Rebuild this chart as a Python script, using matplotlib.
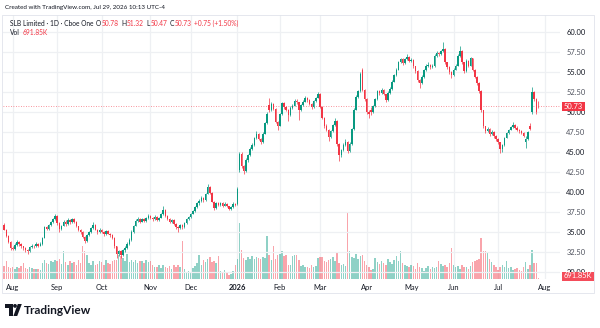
import numpy as np
import pandas as pd
import matplotlib
matplotlib.use("Agg")
import matplotlib.pyplot as plt
from matplotlib.patches import Rectangle, Polygon, Circle

# SLB daily candles, Jul 28 2025 .. Jul 29 2026
opens = [35.9, 35.3, 34.5, 33.7, 33.0, 32.9, 33.4, 33.8, 33.5, 33.2,
         33.0, 32.7, 32.6, 33.1, 33.3, 33.2, 33.5, 33.3, 33.5, 34.3,
         35.6, 35.4, 35.9, 36.2, 36.6, 37.0, 36.1, 35.4, 35.8, 36.3,
         36.0, 36.5, 36.2, 36.6, 36.3, 35.7, 35.2, 35.0, 34.4, 33.9,
         34.6, 35.0, 35.5, 35.9, 35.3, 35.0, 35.3, 35.0, 34.7, 35.1,
         34.8, 34.6, 34.3, 33.2, 32.2, 32.6, 32.1, 32.7, 33.0, 33.5,
         34.0, 35.0, 35.8, 36.4, 36.6, 36.3, 36.6, 36.4, 36.7, 37.0,
         36.8, 36.6, 36.9, 36.5, 36.8, 37.2, 37.8, 37.0, 36.6, 36.2,
         36.5, 36.0, 35.6, 35.5, 35.9, 35.6, 36.1, 36.6, 36.9, 37.3,
         37.6, 38.1, 38.6, 38.9, 39.3, 39.0, 39.8, 40.6, 39.9, 38.8,
         38.0, 38.6, 38.4, 38.6, 38.3, 38.5, 38.2, 37.9, 38.1, 38.5,
         38.5, 42.8, 44.8, 43.2, 42.6, 44.0, 44.6, 45.4, 45.9, 46.7,
         47.3, 46.6, 46.2, 47.3, 48.6, 50.9, 50.2, 51.0, 50.4, 48.8,
         48.3, 49.7, 51.1, 50.6, 50.3, 49.6, 50.5, 50.8, 51.4, 51.2,
         50.2, 50.9, 51.3, 51.8, 51.5, 51.0, 50.6, 51.4, 51.8, 52.3,
         50.6, 49.3, 48.2, 47.8, 46.9, 47.6, 48.4, 48.9, 46.0, 44.6,
         45.2, 45.9, 46.3, 45.1, 46.0, 47.9, 50.3, 51.9, 52.6, 55.2,
         52.8, 51.6, 50.0, 50.3, 50.0, 50.7, 51.6, 52.6, 52.4, 52.8,
         52.2, 51.5, 52.4, 52.9, 53.8, 54.6, 55.3, 56.2, 56.6, 56.1,
         56.6, 56.9, 56.4, 56.5, 55.7, 55.1, 54.0, 53.6, 54.4, 55.2,
         55.8, 55.9, 55.6, 55.7, 57.0, 57.4, 57.2, 57.6, 57.9, 56.2,
         55.6, 55.0, 54.6, 55.3, 55.8, 57.0, 57.6, 56.2, 55.1, 56.4,
         55.8, 56.7, 55.3, 54.4, 53.6, 52.6, 50.2, 48.2, 47.6, 47.9,
         47.2, 47.5, 47.0, 46.6, 46.2, 45.4, 45.9, 46.8, 47.4, 47.8,
         48.1, 48.4, 48.0, 47.8, 47.6, 47.4, 46.3, 46.6, 48.3, 50.0,
         52.5, 51.6, 50.78]
highs = [36.1, 35.4, 34.6, 33.9, 33.3, 33.6, 34.0, 33.9, 33.6, 33.3,
         33.1, 32.9, 33.2, 33.5, 33.4, 33.7, 33.6, 33.7, 34.4, 35.8,
         35.8, 36.0, 36.4, 36.8, 37.3, 37.1, 36.2, 35.9, 36.5, 36.5,
         36.7, 36.6, 36.8, 36.7, 36.4, 35.8, 35.4, 35.1, 34.5, 34.7,
         35.1, 35.6, 36.2, 36.0, 35.4, 35.5, 35.4, 35.1, 35.3, 35.2,
         34.9, 34.7, 34.4, 33.3, 32.8, 32.7, 32.9, 33.2, 33.7, 34.2,
         35.2, 35.9, 36.6, 36.9, 36.7, 36.8, 36.7, 36.9, 37.2, 37.1,
         36.9, 37.1, 37.0, 36.9, 37.4, 38.2, 37.9, 37.1, 36.7, 36.6,
         36.6, 36.1, 35.8, 36.0, 36.0, 36.2, 36.7, 37.0, 37.4, 37.8,
         38.3, 38.7, 39.1, 39.5, 39.4, 39.9, 41.0, 40.7, 40.0, 38.9,
         38.8, 38.7, 38.8, 38.7, 38.7, 38.6, 38.3, 38.3, 38.7, 38.6,
         40.6, 45.0, 45.0, 43.4, 44.2, 44.8, 45.6, 46.1, 46.9, 47.6,
         47.4, 46.8, 47.5, 48.8, 50.0, 51.8, 51.2, 51.1, 50.5, 48.9,
         49.9, 51.3, 51.2, 50.8, 50.4, 50.7, 51.0, 51.6, 51.6, 51.3,
         51.0, 51.5, 52.0, 51.9, 51.6, 51.1, 51.5, 51.9, 52.5, 52.4,
         50.7, 49.4, 48.5, 47.9, 47.8, 48.5, 49.3, 49.0, 46.1, 45.4,
         46.1, 46.6, 46.4, 46.2, 48.0, 50.5, 52.1, 52.8, 55.0, 55.5,
         52.9, 51.7, 50.3, 50.6, 50.9, 51.8, 52.8, 52.7, 53.0, 52.9,
         52.3, 52.6, 53.1, 54.0, 54.8, 55.5, 56.4, 56.8, 56.7, 56.8,
         57.2, 57.0, 56.7, 56.6, 55.8, 55.2, 54.1, 54.6, 55.4, 56.0,
         56.2, 56.0, 56.0, 57.2, 57.6, 57.5, 57.8, 58.8, 58.0, 56.3,
         55.7, 55.1, 55.5, 56.0, 57.2, 58.2, 57.7, 56.3, 56.6, 56.5,
         56.9, 56.8, 55.4, 54.5, 53.7, 52.7, 50.3, 48.3, 48.1, 48.0,
         47.7, 47.6, 47.1, 46.7, 46.3, 46.0, 46.9, 47.5, 47.9, 48.3,
         48.8, 48.5, 48.2, 47.9, 47.7, 47.5, 47.0, 47.6, 48.6, 53.1,
         52.6, 51.8, 51.32]
lows = [35.2, 34.4, 33.6, 32.8, 32.7, 32.8, 33.3, 33.3, 33.0, 32.8,
        32.5, 32.3, 32.5, 33.0, 33.0, 33.1, 33.1, 33.2, 33.4, 34.2,
        35.2, 35.3, 35.8, 36.1, 36.5, 35.9, 35.0, 35.2, 35.7, 35.8,
        35.9, 36.0, 36.1, 36.1, 35.6, 35.1, 34.8, 34.3, 33.6, 33.8,
        34.5, 34.9, 35.4, 35.2, 34.8, 34.9, 34.9, 34.5, 34.6, 34.7,
        34.4, 34.1, 33.0, 31.8, 32.0, 31.7, 32.0, 32.5, 32.9, 33.4,
        33.9, 34.9, 35.7, 36.3, 36.1, 36.2, 36.2, 36.3, 36.6, 36.6,
        36.4, 36.5, 36.4, 36.4, 36.7, 37.1, 36.9, 36.5, 36.1, 36.1,
        35.9, 35.4, 35.0, 35.4, 35.4, 35.5, 36.0, 36.5, 36.8, 37.2,
        37.5, 38.0, 38.4, 38.8, 38.8, 38.9, 39.7, 39.8, 38.7, 37.8,
        37.9, 38.2, 38.3, 38.1, 38.2, 38.1, 37.7, 37.8, 38.0, 38.2,
        38.4, 42.5, 43.0, 42.3, 42.5, 43.8, 44.5, 45.3, 45.8, 46.6,
        46.5, 46.0, 46.1, 47.2, 48.5, 50.0, 50.1, 50.2, 48.6, 47.8,
        48.2, 49.6, 50.4, 50.1, 48.9, 49.5, 50.4, 50.7, 51.0, 49.0,
        50.1, 50.8, 51.2, 51.3, 50.9, 50.4, 50.5, 51.3, 51.7, 50.5,
        49.1, 48.0, 47.6, 46.4, 46.8, 47.5, 48.3, 45.8, 43.9, 44.4,
        45.1, 45.8, 44.9, 45.0, 45.9, 47.8, 50.2, 51.8, 52.5, 52.6,
        51.4, 49.8, 49.3, 49.6, 49.9, 50.6, 51.5, 52.1, 52.3, 52.1,
        51.2, 51.4, 52.3, 52.8, 53.7, 54.5, 55.2, 56.1, 55.9, 56.0,
        56.5, 56.2, 56.3, 55.5, 54.9, 53.8, 53.0, 53.5, 54.3, 55.1,
        55.6, 55.4, 55.5, 55.6, 56.9, 57.0, 57.1, 57.5, 56.0, 55.4,
        54.8, 54.3, 54.5, 55.2, 55.7, 56.9, 56.0, 54.9, 55.0, 55.6,
        55.7, 55.1, 54.2, 53.4, 52.4, 50.0, 48.0, 47.4, 47.5, 47.0,
        47.1, 46.8, 46.4, 46.0, 44.9, 45.0, 45.8, 46.7, 47.3, 47.7,
        48.0, 47.9, 47.6, 47.4, 47.2, 46.9, 45.5, 46.5, 47.7, 49.8,
        51.4, 49.8, 50.47]
closes = [35.3, 34.5, 33.7, 33.0, 32.9, 33.4, 33.8, 33.5, 33.2, 33.0,
          32.7, 32.6, 33.1, 33.3, 33.2, 33.5, 33.3, 33.5, 34.3, 35.6,
          35.4, 35.9, 36.2, 36.6, 37.0, 36.1, 35.4, 35.8, 36.3, 36.0,
          36.5, 36.2, 36.6, 36.3, 35.7, 35.2, 35.0, 34.4, 33.9, 34.6,
          35.0, 35.5, 35.9, 35.3, 35.0, 35.3, 35.0, 34.7, 35.1, 34.8,
          34.6, 34.3, 33.2, 32.2, 32.6, 32.1, 32.7, 33.0, 33.5, 34.0,
          35.0, 35.8, 36.4, 36.6, 36.3, 36.6, 36.4, 36.7, 37.0, 36.8,
          36.6, 36.9, 36.5, 36.8, 37.2, 37.8, 37.0, 36.6, 36.2, 36.5,
          36.0, 35.6, 35.5, 35.9, 35.6, 36.1, 36.6, 36.9, 37.3, 37.6,
          38.1, 38.6, 38.9, 39.3, 39.0, 39.8, 40.6, 39.9, 38.8, 38.0,
          38.6, 38.4, 38.6, 38.3, 38.5, 38.2, 37.9, 38.1, 38.5, 38.4,
          40.4, 44.8, 43.2, 42.6, 44.0, 44.6, 45.4, 45.9, 46.7, 47.3,
          46.6, 46.2, 47.3, 48.6, 49.8, 50.2, 51.0, 50.4, 48.8, 48.3,
          49.7, 51.1, 50.6, 50.3, 49.6, 50.5, 50.8, 51.4, 51.2, 50.2,
          50.9, 51.3, 51.8, 51.5, 51.0, 50.6, 51.4, 51.8, 52.2, 50.6,
          49.3, 48.2, 47.8, 46.9, 47.6, 48.4, 48.9, 46.0, 44.6, 45.2,
          45.9, 46.3, 45.1, 46.0, 47.9, 50.3, 51.9, 52.6, 54.7, 52.8,
          51.6, 50.0, 49.8, 50.0, 50.7, 51.6, 52.6, 52.4, 52.8, 52.2,
          51.5, 52.4, 52.9, 53.8, 54.6, 55.3, 56.2, 56.6, 56.1, 56.6,
          56.9, 56.4, 56.5, 55.7, 55.1, 54.0, 53.6, 54.4, 55.2, 55.8,
          55.9, 55.6, 55.7, 57.0, 57.4, 57.2, 57.6, 57.9, 56.2, 55.6,
          55.0, 54.6, 55.3, 55.8, 57.0, 57.6, 56.2, 55.1, 56.4, 55.8,
          56.7, 55.3, 54.4, 53.6, 52.6, 50.2, 48.2, 47.6, 47.9, 47.2,
          47.5, 47.0, 46.6, 46.2, 45.4, 45.9, 46.8, 47.4, 47.8, 48.1,
          48.4, 48.0, 47.8, 47.6, 47.4, 47.0, 46.6, 47.5, 47.9, 52.5,
          51.6, 49.98, 50.73]
# volume in millions of shares
volumes = [6.5, 8.8, 6.0, 5.5, 6.2, 5.0, 5.8, 5.3, 6.5, 7.8,
           5.6, 5.2, 6.0, 5.4, 5.0, 4.8, 5.2, 4.6, 8.0, 9.5,
           8.2, 7.6, 9.0, 8.5, 9.6, 8.9, 10.2, 7.4, 13.8, 8.6,
           7.2, 9.0, 7.8, 8.4, 6.9, 9.5, 8.0, 16.3, 13.8, 12.0,
           8.0, 7.2, 9.0, 6.8, 7.5, 9.2, 8.5, 7.0, 9.6, 8.2,
           7.4, 8.8, 9.5, 9.7, 12.0, 11.5, 10.5, 9.0, 12.5, 8.6,
           9.5, 8.4, 9.6, 8.0, 9.2, 8.8, 7.8, 9.4, 8.5, 9.0,
           7.0, 6.2, 5.8, 6.8, 5.4, 7.0, 6.0, 5.5, 6.4, 5.2,
           6.8, 5.8, 7.2, 6.2, 18.8, 5.0, 3.4, 4.2, 2.8, 5.4,
           6.5, 8.2, 12.0, 7.0, 9.6, 8.4, 9.8, 11.0, 8.6, 9.2,
           7.8, 11.4, 4.2, 3.0, 4.6, 3.2, 2.0, 2.6, 3.8, 7.0,
           10.0, 28.0, 14.5, 10.6, 9.5, 11.0, 10.2, 11.6, 9.8, 11.2,
           10.5, 9.8, 11.0, 10.4, 21.5, 11.8, 9.6, 16.5, 10.2, 12.0,
           12.6, 13.8, 11.5, 12.2, 7.2, 7.0, 11.4, 12.0, 11.8, 9.6,
           6.5, 7.0, 5.8, 6.2, 5.5, 6.8, 6.0, 6.4, 10.5, 11.2,
           10.8, 9.0, 8.4, 9.6, 10.0, 10.8, 9.2, 13.2, 7.8, 6.8,
           7.4, 6.6, 32.8, 14.0, 11.2, 10.5, 12.6, 10.0, 11.4, 12.0,
           9.0, 7.2, 6.0, 4.6, 5.2, 10.5, 8.4, 7.6, 9.0, 8.0,
           7.2, 10.2, 8.6, 7.4, 9.6, 11.5, 9.0, 14.0, 8.0, 7.0,
           6.4, 5.8, 7.0, 6.5, 4.8, 8.0, 6.2, 5.5, 4.0, 5.6,
           6.4, 5.2, 5.8, 5.4, 6.0, 9.0, 7.6, 6.4, 7.0, 5.8,
           8.0, 15.5, 7.0, 6.0, 6.4, 5.2, 6.8, 5.8, 6.2, 5.0,
           6.6, 8.4, 8.8, 9.6, 10.2, 20.5, 14.0, 14.2, 13.0, 9.8,
           8.4, 7.0, 6.0, 4.6, 5.8, 7.2, 6.0, 9.0, 5.6, 6.2,
           4.6, 4.8, 5.4, 4.6, 3.8, 6.0, 8.6, 5.2, 7.0, 14.5,
           8.0, 7.8, 0.69185]

holidays = ["2025-09-01", "2025-11-27", "2025-12-25", "2026-01-01", "2026-01-19",
            "2026-02-16", "2026-04-03", "2026-05-25", "2026-06-19", "2026-07-03"]
month_labels = ["Aug", "Sep", "Oct", "Nov", "Dec", "2026", "Feb", "Mar",
                "Apr", "May", "Jun", "Jul", "Aug"]
price_ticks = [30.0, 32.5, 35.0, 37.5, 40.0, 42.5, 45.0, 47.5, 50.0, 52.5, 55.0, 57.5, 60.0]

UP = "#089981"
DOWN = "#F23645"
TXT = "#131722"
GRID = "#EEF0F3"

plt.rcParams["font.family"] = ["Lato", "DejaVu Sans"]

# trading days, extended a bit past the data so the Aug 2026 tick exists
days = pd.bdate_range("2025-07-28", "2026-08-07")
days = days[~days.isin(pd.to_datetime(holidays))]
month_pos = [i for i in range(1, len(days)) if days[i].month != days[i - 1].month]

o = np.array(opens)
h = np.array(highs)
l = np.array(lows)
c = np.array(closes)
v = np.array(volumes)
x = np.arange(len(c))
up = c >= o
col = np.where(up, UP, DOWN)

W, H = 600, 328
def box(left, top, right, bottom):
    return [left / W, 1 - bottom / H, (right - left) / W, (bottom - top) / H]

fig = plt.figure(figsize=(6, 3.28), dpi=100)
renderer = fig.canvas.get_renderer()

# volume pane (bottom layer)
vax = fig.add_axes(box(3, 15, 560, 279))
vax.bar(x, v, width=0.7, color=col, alpha=0.45, linewidth=0)
vax.set_ylim(0, 132)
vax.set_xlim(-0.57, 262.2)
for p in month_pos:
    vax.axvline(p, color=GRID, lw=0.9, zorder=0)
vax.set_yticks([])
vax.set_xticks(month_pos)
vax.set_xticklabels(month_labels, fontsize=5.4, color=TXT)
vax.get_xticklabels()[5].set_fontweight("bold")
vax.tick_params(axis="x", length=0, pad=3.5)
for s in vax.spines.values():
    s.set_visible(False)

# price pane on top
ax = vax.twinx()
ax.set_ylim(29.125, 62.125)
for p in price_ticks:
    ax.axhline(p, color=GRID, lw=0.9, zorder=0)
ax.vlines(x, l, h, colors=col, lw=0.5, zorder=2)
body = np.maximum(np.abs(c - o), 0.06)
ax.bar(x, body, bottom=np.minimum(o, c), width=0.7, color=col, linewidth=0, zorder=3)
ax.axhline(closes[-1], color=DOWN, lw=0.6, ls=(0, (1, 2)), alpha=0.7, zorder=1)
ax.set_yticks(price_ticks)
ax.set_yticklabels([f"{p:.2f}" for p in price_ticks], fontsize=5.4)
for lab, p in zip(ax.get_yticklabels(), price_ticks):
    lab.set_color(TXT if p % 5 == 0 else "#50535E")
ax.tick_params(axis="y", length=0, pad=4.5)
for s in ax.spines.values():
    s.set_visible(False)

# overlay for header, tags, frame and logo (pixel coordinates)
ov = fig.add_axes([0, 0, 1, 1], zorder=10)
ov.set_xlim(0, W)
ov.set_ylim(H, 0)
ov.axis("off")
ov.patch.set_alpha(0)

def text_row(x0, y, pieces, size):
    # place pieces one after another, each followed by its gap in pixels
    xx = x0
    for s, color, gap in pieces:
        t = ov.text(xx, y, s, fontsize=size, color=color, va="center")
        xx += t.get_window_extent(renderer).width + gap

ov.add_patch(Rectangle((1.5, 15), 592.5, 278, fill=False, ec="#E0E3EB", lw=0.6))
ov.text(5, 7.5, "Created with TradingView.com, Jul 29, 2026 10:13 UTC-4",
        fontsize=4.5, color=TXT, va="center")

text_row(10, 23.5, [("SLB Limited · 1D · Cboe One", TXT, 2.5),
                    ("O", TXT, 0.6), ("50.78", DOWN, 2.5),
                    ("H", TXT, 0.6), ("51.32", DOWN, 2.5),
                    ("L", TXT, 0.6), ("50.47", DOWN, 2.5),
                    ("C", TXT, 0.6), ("50.73", DOWN, 2.5),
                    ("+0.75 (+1.50%)", DOWN, 0)], 4.8)
text_row(10, 32.5, [("Vol", TXT, 3), ("691.85K", DOWN, 0)], 4.8)

# last price and last volume tags
ov.add_patch(Rectangle((561.5, 101.5), 23.5, 9.5, color=DOWN, lw=0))
ov.text(573.2, 106.4, "50.73", fontsize=5.4, color="white", ha="center", va="center")
ov.add_patch(Rectangle((561.5, 271.5), 32, 9, color="#F44C5A", lw=0))
ov.text(577.5, 276, "691.85K", fontsize=5.4, color="white", ha="center", va="center")

# TradingView logo
ov.add_patch(Polygon([(5, 304), (12.5, 304), (12.5, 316), (9.2, 316), (9.2, 307.5), (5, 307.5)],
                     color="#131722", lw=0))
ov.add_patch(Circle((15, 305.9), 1.9, color="#131722", lw=0))
ov.add_patch(Polygon([(17.8, 304), (21.8, 304), (17.2, 316), (13.4, 316)], color="#131722", lw=0))
ov.text(23.5, 310.5, "TradingView", fontsize=8.6, fontweight="bold", color="#131722", va="center")

fig.savefig("out.png", dpi=100, facecolor="white")
